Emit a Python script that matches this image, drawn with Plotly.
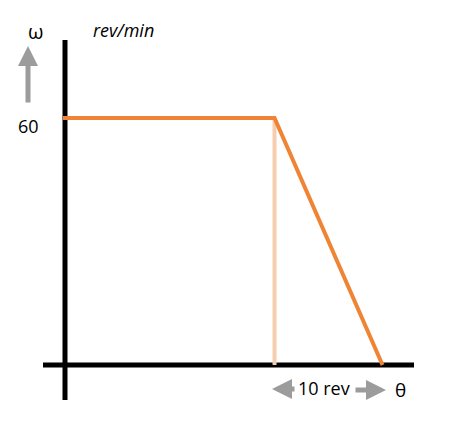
import plotly.graph_objects as go

# Data
theta_rev = [0, 19.4, 29.4]      # revolutions
omega_rpm = [60, 60, 0]          # rev/min
y_tick_label = "60"
x_span_label = "10 rev"

ORANGE = "#EE8434"
GRAY = "#9C9C9C"
FONT = "Open Sans"

# page pixel -> data helpers for layout placement (page body has 8px offset)
PX_PER_REV = 10.8
PX_PER_RPM = 247 / 60.0
X0, Y0 = 65, 365
OFF = 8
def tx(px):
    return (px - X0) / PX_PER_REV
def ty(py):
    return (Y0 - py) / PX_PER_RPM

fig = go.Figure()

# faint vertical guide at end of constant section
fig.add_trace(go.Scatter(
    x=[theta_rev[1], theta_rev[1]], y=[omega_rpm[1], 0],
    mode="lines", line=dict(color="#F6CDAE", width=4),
    hoverinfo="skip", showlegend=False))

fig.add_trace(go.Scatter(
    x=[tx(63)] + theta_rev[1:], y=omega_rpm,
    mode="lines", line=dict(color=ORANGE, width=4),
    hoverinfo="skip", showlegend=False))

shapes = [
    dict(type="line", xref="x", yref="y", x0=0, x1=0, y0=ty(400), y1=ty(40),
         line=dict(color="black", width=5), layer="below"),
    dict(type="line", xref="x", yref="y", x0=tx(43), x1=tx(414), y0=0, y1=0,
         line=dict(color="black", width=5), layer="below"),
]

ann = [
    dict(x=tx(35), y=ty(31), text="ω", showarrow=False,
         font=dict(size=20, color="black", family=FONT)),
    dict(x=tx(123), y=ty(30), text="<i>rev/min</i>", showarrow=False,
         font=dict(size=18, color="black", family=FONT)),
    dict(x=tx(28), y=ty(126), text=y_tick_label, showarrow=False,
         font=dict(size=18, color="black", family=FONT)),
    dict(x=tx(324), y=ty(388), text=x_span_label, showarrow=False,
         font=dict(size=18, color="black", family=FONT)),
    dict(x=tx(400), y=ty(390), text="θ", showarrow=False,
         font=dict(size=19, color="black", family=FONT)),
    # arrows
    dict(x=tx(28), y=ty(46), ax=tx(28), ay=ty(104), xref="x", yref="y",
         axref="x", ayref="y", text="", showarrow=True, arrowhead=2,
         arrowsize=0.8, arrowwidth=5, arrowcolor=GRAY),
    dict(x=tx(272), y=ty(389), ax=tx(296), ay=ty(389), xref="x", yref="y",
         axref="x", ayref="y", text="", showarrow=True, arrowhead=2,
         arrowsize=0.8, arrowwidth=5, arrowcolor=GRAY),
    dict(x=tx(386), y=ty(390), ax=tx(354), ay=ty(390), xref="x", yref="y",
         axref="x", ayref="y", text="", showarrow=True, arrowhead=2,
         arrowsize=0.8, arrowwidth=5, arrowcolor=GRAY),
]

fig.update_layout(
    width=450, height=436,
    margin=dict(l=0, r=0, t=0, b=0),
    paper_bgcolor="white", plot_bgcolor="white",
    shapes=shapes, annotations=ann,
    xaxis=dict(range=[tx(OFF), tx(450 + OFF)], visible=False, fixedrange=True),
    yaxis=dict(range=[ty(436 + OFF), ty(OFF)], visible=False, fixedrange=True),
    showlegend=False,
)

fig.write_html("out.html")
